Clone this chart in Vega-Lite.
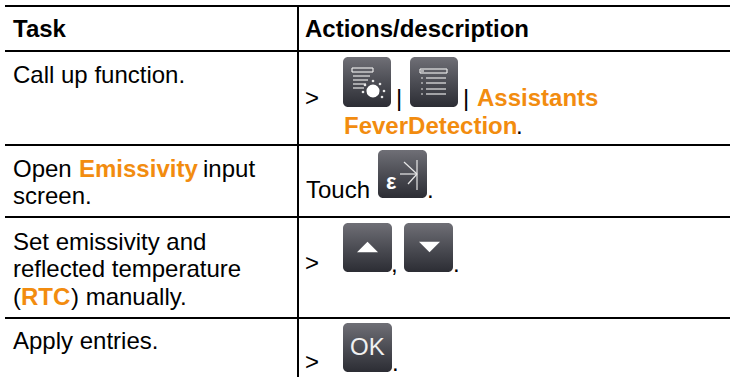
{"$schema":"https://vega.github.io/schema/vega-lite/v6.json","width":730,"height":377,"autosize":{"type":"none"},"padding":0,"background":"white","config":{"view":{"stroke":null}},
"datasets":{
"grid":[{"x":5,"x2":730,"y":6,"y2":6},{"x":5,"x2":730,"y":51,"y2":51},{"x":5,"x2":730,"y":145,"y2":145},{"x":5,"x2":730,"y":217,"y2":217},{"x":5,"x2":730,"y":318,"y2":318},{"x":298,"x2":298,"y":6,"y2":377}],
"plain":[{"t":"Call up function.","x":13,"y":83},{"t":"Open","x":13,"y":177},{"t":"input","x":203,"y":177},{"t":"screen.","x":13,"y":204},{"t":"Set emissivity and","x":13,"y":250},{"t":"reflected temperature","x":13,"y":277},{"t":"(","x":13,"y":305},{"t":") manually.","x":71,"y":305},{"t":"Apply entries.","x":13,"y":349},{"t":">","x":305,"y":106},{"t":"|","x":396,"y":106},{"t":"|","x":463,"y":106},{"t":".","x":516,"y":134},{"t":"Touch","x":306,"y":198},{"t":".","x":427,"y":198},{"t":">","x":305,"y":271},{"t":",","x":391,"y":272},{"t":".","x":453,"y":272},{"t":">","x":305,"y":370},{"t":".","x":392,"y":371}],
"head":[{"t":"Task","x":13,"y":37},{"t":"Actions/description","x":305,"y":37}],
"orange":[{"t":"Emissivity","x":79,"y":177},{"t":"RTC","x":21,"y":305},{"t":"Assistants","x":477,"y":106},{"t":"FeverDetection","x":344,"y":134}],
"icons":[{"x":343,"x2":391,"y":57,"y2":107},{"x":410,"x2":458,"y":57,"y2":107},{"x":378,"x2":427,"y":150,"y2":198},{"x":343,"x2":392,"y":223,"y2":272},{"x":404,"x2":453,"y":223,"y2":272},{"x":343,"x2":392,"y":323,"y2":372}],
"iconLines":[{"x":352,"x2":373,"y":68,"y2":68},{"x":352,"x2":373,"y":72,"y2":72},{"x":352,"x2":352,"y":68,"y2":72},{"x":373,"x2":373,"y":68,"y2":72},{"x":353,"x2":370,"y":76,"y2":76},{"x":353,"x2":368,"y":80,"y2":80},{"x":353,"x2":366,"y":84,"y2":84},{"x":353,"x2":364,"y":88,"y2":88},{"x":420,"x2":447,"y":69,"y2":69},{"x":420,"x2":447,"y":73,"y2":73},{"x":447,"x2":447,"y":69,"y2":73},{"x":420,"x2":420,"y":69,"y2":73},{"x":426,"x2":446,"y":78,"y2":78},{"x":426,"x2":446,"y":83,"y2":83},{"x":426,"x2":446,"y":89,"y2":89},{"x":426,"x2":446,"y":94,"y2":94},{"x":421,"x2":423,"y":78,"y2":78},{"x":421,"x2":423,"y":83,"y2":83},{"x":421,"x2":423,"y":89,"y2":89},{"x":421,"x2":423,"y":94,"y2":94},{"x":421,"x2":424,"y":71,"y2":71},{"x":417,"x2":417,"y":160,"y2":190},{"x":400,"x2":417,"y":174,"y2":174},{"x":404,"x2":417,"y":162,"y2":174},{"x":408,"x2":417,"y":184,"y2":174}],
"dial":[{"x":373,"y":91}],
"dots":[{"x":363,"y":92},{"x":365,"y":85},{"x":373,"y":81},{"x":380,"y":84},{"x":384,"y":91},{"x":382,"y":97}],
"up":[{"x":367.5,"y":247}],
"down":[{"x":429.5,"y":247}],
"eps":[{"t":"ε","x":386,"y":189}],
"ok":[{"t":"OK","x":350,"y":355}]
},
"layer":[
{"data":{"name":"grid"},"mark":{"type":"rule","color":"#000","strokeWidth":2},"encoding":{"x":{"field":"x","type":"quantitative","scale":{"domain":[0,730],"range":[0,730]},"axis":null},"x2":{"field":"x2"},"y":{"field":"y","type":"quantitative","scale":{"domain":[0,377],"range":[0,377]},"axis":null},"y2":{"field":"y2"}}},
{"data":{"name":"icons"},"mark":{"type":"rect","cornerRadius":5,"color":{"gradient":"linear","x1":0,"y1":0,"x2":0,"y2":1,"stops":[{"offset":0,"color":"#6f6f76"},{"offset":0.5,"color":"#4c4d54"},{"offset":1,"color":"#2c2d34"}]}},"encoding":{"x":{"field":"x","type":"quantitative","scale":null},"x2":{"field":"x2"},"y":{"field":"y","type":"quantitative","scale":null},"y2":{"field":"y2"}}},
{"data":{"name":"iconLines"},"mark":{"type":"rule","color":"#e8e8e8","strokeWidth":1.2},"encoding":{"x":{"field":"x","type":"quantitative","scale":null},"x2":{"field":"x2"},"y":{"field":"y","type":"quantitative","scale":null},"y2":{"field":"y2"}}},
{"data":{"name":"dial"},"mark":{"type":"point","shape":"circle","filled":true,"size":170,"color":"white","opacity":1},"encoding":{"x":{"field":"x","type":"quantitative","scale":null},"y":{"field":"y","type":"quantitative","scale":null}}},
{"data":{"name":"dots"},"mark":{"type":"point","shape":"circle","filled":true,"size":7,"color":"#e8e8e8","opacity":1},"encoding":{"x":{"field":"x","type":"quantitative","scale":null},"y":{"field":"y","type":"quantitative","scale":null}}},
{"data":{"name":"up"},"mark":{"type":"point","shape":"M-1,0.5L1,0.5L0,-0.5Z","filled":true,"size":440,"color":"white","opacity":1},"encoding":{"x":{"field":"x","type":"quantitative","scale":null},"y":{"field":"y","type":"quantitative","scale":null}}},
{"data":{"name":"down"},"mark":{"type":"point","shape":"M-1,-0.5L1,-0.5L0,0.5Z","filled":true,"size":440,"color":"white","opacity":1},"encoding":{"x":{"field":"x","type":"quantitative","scale":null},"y":{"field":"y","type":"quantitative","scale":null}}},
{"data":{"name":"eps"},"mark":{"type":"text","align":"left","baseline":"alphabetic","font":"Liberation Sans","fontSize":22,"fontWeight":"bold","color":"white"},"encoding":{"text":{"field":"t"},"x":{"field":"x","type":"quantitative","scale":null},"y":{"field":"y","type":"quantitative","scale":null}}},
{"data":{"name":"ok"},"mark":{"type":"text","align":"left","baseline":"alphabetic","font":"Liberation Sans","fontSize":24,"color":"#f0f0f0"},"encoding":{"text":{"field":"t"},"x":{"field":"x","type":"quantitative","scale":null},"y":{"field":"y","type":"quantitative","scale":null}}},
{"data":{"name":"plain"},"mark":{"type":"text","align":"left","baseline":"alphabetic","font":"Liberation Sans","fontSize":24,"color":"#000"},"encoding":{"text":{"field":"t"},"x":{"field":"x","type":"quantitative","scale":null},"y":{"field":"y","type":"quantitative","scale":null}}},
{"data":{"name":"head"},"mark":{"type":"text","align":"left","baseline":"alphabetic","font":"Liberation Sans","fontSize":24,"fontWeight":"bold","color":"#000"},"encoding":{"text":{"field":"t"},"x":{"field":"x","type":"quantitative","scale":null},"y":{"field":"y","type":"quantitative","scale":null}}},
{"data":{"name":"orange"},"mark":{"type":"text","align":"left","baseline":"alphabetic","font":"Liberation Sans","fontSize":24,"fontWeight":"bold","color":"#f28c0f"},"encoding":{"text":{"field":"t"},"x":{"field":"x","type":"quantitative","scale":null},"y":{"field":"y","type":"quantitative","scale":null}}}
]}
